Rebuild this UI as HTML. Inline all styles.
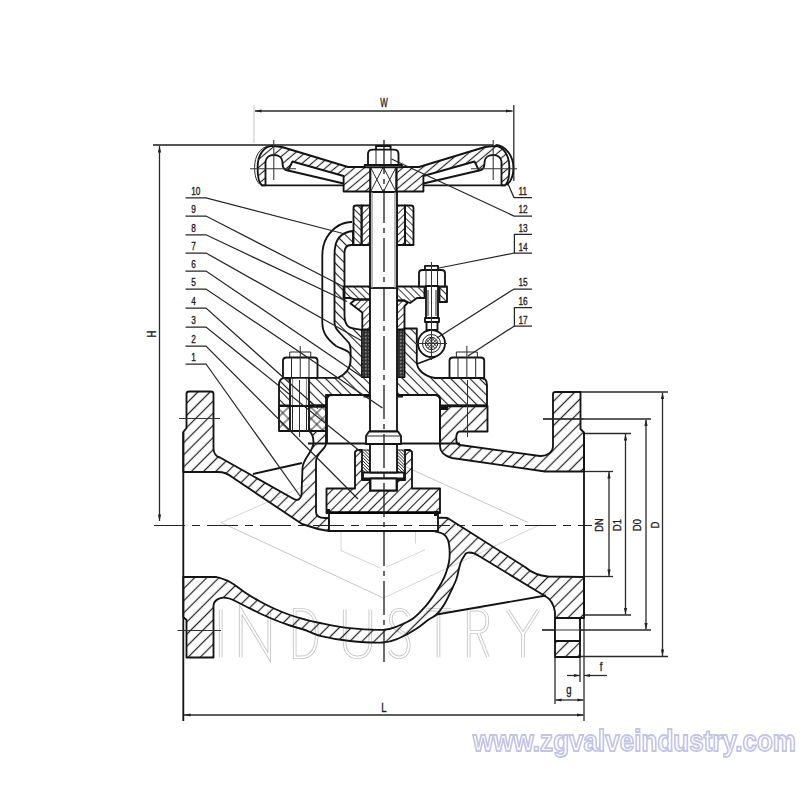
<!DOCTYPE html>
<html><head><meta charset="utf-8"><style>
html,body{margin:0;padding:0;background:#fff;}
body{width:800px;height:800px;overflow:hidden;position:relative;}
svg{position:absolute;left:0;top:0;}
.o{fill:none;stroke:#141414;stroke-width:1.85;stroke-linejoin:round;}
.w{fill:#fff;}
.t{fill:none;stroke:#262626;stroke-width:1.0;}
.td{fill:none;stroke:#2a2a2a;stroke-width:1.3;} .tg{fill:none;stroke:#888;stroke-width:1.2;} .tl{fill:none;stroke:#c4c4c4;stroke-width:1;}
.tk{fill:none;stroke:#1c1c1c;stroke-width:1.4;}
.thk{stroke:#000;stroke-width:2.4;}
.ar{fill:#222;stroke:none;}
.ld{fill:none;stroke:#262626;stroke-width:1.25;}
.hBody{fill:url(#hBody);} .hBon{fill:url(#hBon);} .hDisc{fill:url(#hDisc);} .hHw{fill:url(#hHw);}
.hSm{fill:url(#hSm);} .hSmB{fill:url(#hSmB);} .hX{fill:url(#hX);} .hX2{fill:url(#hX2);} .hF{fill:url(#hF);}
.pk{fill:url(#pk);stroke:#111;stroke-width:1;}
.pk2{fill:url(#pk);stroke:#111;stroke-width:0.8;}
.blk{fill:#111;}
.cl{fill:none;stroke:#222;stroke-width:1;stroke-dasharray:31 7 8 7;} .clv{fill:none;stroke:#1c1c1c;stroke-width:1.3;stroke-dasharray:34 5 5 5;}
.cl2{fill:none;stroke:#333;stroke-width:1.05;}
.wm{fill:none;stroke:#d6d6d6;stroke-width:1;}
.lb{font-family:"Liberation Sans",sans-serif;fill:#1e1e1e;stroke:#1e1e1e;stroke-width:0.35;}
.indA path{fill:none;stroke:#c6c6c6;stroke-width:3.6;} .indB path{fill:none;stroke:#fff;stroke-width:1.8;}
.wm2{fill:none;stroke:#b8b8b8;stroke-width:0.8;}
.url{font-family:"Liberation Sans",sans-serif;font-weight:bold;font-size:29px;fill:#fdfdff;stroke:#c4c4e6;stroke-width:1.8;filter:url(#blr);}
</style></head><body>
<svg width="800" height="800" viewBox="0 0 800 800">
<defs>
<filter id="blr" x="-5%" y="-20%" width="110%" height="140%"><feGaussianBlur stdDeviation="0.45"/></filter>
<pattern id="hBody" patternUnits="userSpaceOnUse" width="8.6" height="8.6" patternTransform="rotate(45)"><line x1="4.3" y1="-1" x2="4.3" y2="9.6" stroke="#222" stroke-width="1.25"/></pattern>
<pattern id="hBon" patternUnits="userSpaceOnUse" width="6.8" height="6.8" patternTransform="rotate(-45)"><line x1="3.4" y1="-1" x2="3.4" y2="7.8" stroke="#222" stroke-width="1.15"/></pattern>
<pattern id="hDisc" patternUnits="userSpaceOnUse" width="6.8" height="6.8" patternTransform="rotate(45)"><line x1="3.4" y1="-1" x2="3.4" y2="7.8" stroke="#222" stroke-width="1.15"/></pattern>
<pattern id="hHw" patternUnits="userSpaceOnUse" width="6.2" height="6.2" patternTransform="rotate(50)"><line x1="3.1" y1="-1" x2="3.1" y2="7.2" stroke="#222" stroke-width="1.15"/></pattern>
<pattern id="hSm" patternUnits="userSpaceOnUse" width="5.0" height="5.0" patternTransform="rotate(45)"><line x1="2.5" y1="-1" x2="2.5" y2="6.0" stroke="#222" stroke-width="0.9"/></pattern>
<pattern id="hSmB" patternUnits="userSpaceOnUse" width="5.0" height="5.0" patternTransform="rotate(-45)"><line x1="2.5" y1="-1" x2="2.5" y2="6.0" stroke="#222" stroke-width="0.9"/></pattern>
<pattern id="hF" patternUnits="userSpaceOnUse" width="2.2" height="2.2" patternTransform="rotate(-45)"><line x1="1.1" y1="-1" x2="1.1" y2="3.2" stroke="#222" stroke-width="0.7"/></pattern>
<pattern id="hX" patternUnits="userSpaceOnUse" width="8" height="8" patternTransform="rotate(45)"><line x1="4" y1="-1" x2="4" y2="9" stroke="#2b2b2b" stroke-width="1"/><line x1="-1" y1="4" x2="9" y2="4" stroke="#2b2b2b" stroke-width="1"/></pattern>
<pattern id="hX2" patternUnits="userSpaceOnUse" width="2.5" height="2.5" patternTransform="rotate(45)"><line x1="1.25" y1="0" x2="1.25" y2="2.5" stroke="#333" stroke-width="0.7"/><line x1="0" y1="1.25" x2="2.5" y2="1.25" stroke="#333" stroke-width="0.7"/></pattern>
<pattern id="pk" patternUnits="userSpaceOnUse" width="3.5" height="3.5"><rect width="3.5" height="3.5" fill="#2e2e2e"/><circle cx="1.75" cy="1.75" r="1.0" fill="#8a8a8a"/></pattern>
</defs>
<rect width="800" height="800" fill="#fff"/>
<path class="wm" d="M221,522.5 L309,484 M341,523.5 L341,550.6 L380.4,568 M415.5,530.5 L415.5,543.6 M386.5,567 L425,549.75 M383.5,598 L539.5,525"/>
<path class="wm2" d="M221,522.5 L383.5,598 M386.5,458 L528,522.5"/>
<g class="indA"><path d="M220.7,609.7 V657.3 M240.7,657.3 V609.7 L269.3,657.3 V609.7 M294.7,609.7 V657.3 H301 C312.5,657.3 316.8,647 316.8,633.5 C316.8,620 312.5,609.7 301,609.7 Z M344.7,609.7 V643 C344.7,652 350,657.3 357.5,657.3 C365,657.3 370.3,652 370.3,643 V609.7 M408.8,616 C406.5,611.5 403,609.7 399.5,609.7 C393.5,609.7 390.8,614 390.8,619.5 C390.8,626 395.5,629 400,631 C405,633.5 408.8,637 408.8,645 C408.8,653 404.5,657.3 399.5,657.3 C395,657.3 391.5,655 389.8,650.5 M426,609.7 H451 M438.5,609.7 V657.3 M468.7,657.3 V609.7 H478 C484,609.7 487.3,614 487.3,621 C487.3,628 484,632 478,632 H468.7 M478,632 L488,657.3 M507.5,609.7 L523,634 L538.5,609.7 M523,634 V657.3"/></g>
<g class="indB"><path d="M220.7,609.7 V657.3 M240.7,657.3 V609.7 L269.3,657.3 V609.7 M294.7,609.7 V657.3 H301 C312.5,657.3 316.8,647 316.8,633.5 C316.8,620 312.5,609.7 301,609.7 Z M344.7,609.7 V643 C344.7,652 350,657.3 357.5,657.3 C365,657.3 370.3,652 370.3,643 V609.7 M408.8,616 C406.5,611.5 403,609.7 399.5,609.7 C393.5,609.7 390.8,614 390.8,619.5 C390.8,626 395.5,629 400,631 C405,633.5 408.8,637 408.8,645 C408.8,653 404.5,657.3 399.5,657.3 C395,657.3 391.5,655 389.8,650.5 M426,609.7 H451 M438.5,609.7 V657.3 M468.7,657.3 V609.7 H478 C484,609.7 487.3,614 487.3,621 C487.3,628 484,632 478,632 H468.7 M478,632 L488,657.3 M507.5,609.7 L523,634 L538.5,609.7 M523,634 V657.3"/></g>
<line class="tl" x1="254" y1="105" x2="254" y2="143"/>
<line class="td" x1="513.8" y1="105" x2="513.8" y2="181"/>
<line class="td" x1="255" y1="111" x2="512.5" y2="111"/>
<path class="ar" d="M255.0,111.0 L261.5,109.4 L261.5,112.6 Z"/>
<path class="ar" d="M512.5,111.0 L506.0,112.6 L506.0,109.4 Z"/>
<text class="lb" transform="translate(384,107) scale(0.66,1)" text-anchor="middle" font-size="12">W</text>
<line class="tk" x1="153" y1="145" x2="493" y2="145"/>
<line class="td" x1="159.5" y1="146" x2="159.5" y2="521"/>
<path class="ar" d="M159.5,146.0 L161.1,152.5 L157.9,152.5 Z"/>
<path class="ar" d="M159.5,521.0 L157.9,514.5 L161.1,514.5 Z"/>
<text class="lb" transform="translate(156,334) rotate(-90) scale(0.8,1)" text-anchor="middle" font-size="12">H</text>
<line class="o" x1="183.3" y1="432" x2="183.3" y2="721"/>
<line class="td" x1="584" y1="618" x2="584" y2="721"/>
<line class="o" x1="584" y1="432.5" x2="584" y2="618"/>
<line class="td" x1="184" y1="715" x2="583.5" y2="715"/>
<path class="ar" d="M184.0,715.0 L190.5,713.4 L190.5,716.6 Z"/>
<path class="ar" d="M583.5,715.0 L577.0,716.6 L577.0,713.4 Z"/>
<text class="lb" transform="translate(384,711.5) scale(0.8,1)" text-anchor="middle" font-size="12">L</text>
<line class="td" x1="555" y1="657" x2="555" y2="704"/>
<line class="td" x1="555.5" y1="700" x2="583.5" y2="700"/>
<path class="ar" d="M555.5,700.0 L561.5,698.4 L561.5,701.6 Z"/>
<path class="ar" d="M583.5,700.0 L577.5,701.6 L577.5,698.4 Z"/>
<text class="lb" transform="translate(569,693.5) scale(0.8,1)" text-anchor="middle" font-size="12">g</text>
<line class="td" x1="580" y1="657" x2="580" y2="682"/>
<line class="td" x1="567" y1="675.5" x2="580" y2="675.5"/>
<path class="ar" d="M580.0,675.5 L574.0,677.1 L574.0,673.9 Z"/>
<line class="td" x1="584" y1="675.5" x2="607" y2="675.5"/>
<path class="ar" d="M584.0,675.5 L590.0,673.9 L590.0,677.1 Z"/>
<text class="lb" transform="translate(601,671) scale(0.8,1)" text-anchor="middle" font-size="12">f</text>
<line class="td" x1="584" y1="471.5" x2="613" y2="471.5"/>
<line class="td" x1="584" y1="576.5" x2="613" y2="576.5"/>
<line class="td" x1="609" y1="472" x2="609" y2="576"/>
<path class="ar" d="M609.0,472.0 L610.6,478.5 L607.4,478.5 Z"/>
<path class="ar" d="M609.0,576.0 L607.4,569.5 L610.6,569.5 Z"/>
<line class="td" x1="584" y1="433.5" x2="631" y2="433.5"/>
<line class="td" x1="584" y1="615" x2="631" y2="615"/>
<line class="td" x1="625.5" y1="434" x2="625.5" y2="614.5"/>
<path class="ar" d="M625.5,434.0 L627.1,440.5 L623.9,440.5 Z"/>
<path class="ar" d="M625.5,614.5 L623.9,608.0 L627.1,608.0 Z"/>
<line class="td" x1="543" y1="419" x2="651" y2="419"/>
<line class="td" x1="542" y1="630" x2="651" y2="630"/>
<line class="td" x1="646" y1="419.5" x2="646" y2="629.5"/>
<path class="ar" d="M646.0,419.5 L647.6,426.0 L644.4,426.0 Z"/>
<path class="ar" d="M646.0,629.5 L644.4,623.0 L647.6,623.0 Z"/>
<line class="td" x1="580.5" y1="392" x2="668" y2="392"/>
<line class="td" x1="580" y1="656.5" x2="668" y2="656.5"/>
<line class="td" x1="662.5" y1="392.5" x2="662.5" y2="656"/>
<path class="ar" d="M662.5,392.5 L664.1,399.0 L660.9,399.0 Z"/>
<path class="ar" d="M662.5,656.0 L660.9,649.5 L664.1,649.5 Z"/>
<text class="lb" transform="translate(602.5,525) rotate(-90) scale(0.8,1)" text-anchor="middle" font-size="11.5">DN</text>
<text class="lb" transform="translate(621,525) rotate(-90) scale(0.8,1)" text-anchor="middle" font-size="11.5">D1</text>
<text class="lb" transform="translate(641,525) rotate(-90) scale(0.8,1)" text-anchor="middle" font-size="11.5">D0</text>
<text class="lb" transform="translate(658.5,525) rotate(-90) scale(0.8,1)" text-anchor="middle" font-size="11.5">D</text>
<path class="hHw o" d="M271.5,145.8 C263,147 257.6,156 257.6,167.5 C257.6,177 259,183 261.75,185.3 L265.5,185.3 L265.5,161.5 C266,157.5 269.5,155 273.75,155 C278.5,155 282,157.5 282.3,161 L282.75,166 C283.5,169 285.5,170.3 288,170.5 L292.5,161.5 L343.6,176 L343.6,191.5 L370.4,191.5 L370.4,167 L348,167 L282,147 Z"/>
<path class="hHw o" d="M 495.5,145.8 C 504.0,147 509.4,156 509.4,167.5 C 509.4,177 508.0,183 505.2,185.3 L 501.5,185.3 L 501.5,161.5 C 501.0,157.5 497.5,155 493.2,155 C 488.5,155 485.0,157.5 484.7,161 L 484.2,166 C 483.5,169 481.5,170.3 479.0,170.5 L 474.5,161.5 L 423.4,176 L 423.4,191.5 L 396.6,191.5 L 396.6,167 L 419.0,167 L 485.0,147 Z"/>
<path class="o" d="M288,170.5 L343.6,183.5"/>
<path class="o" d="M 479.0,170.5 L 423.4,183.5"/>
<path class="o" d="M261.75,185.3 L343.6,185.3"/>
<path class="o" d="M 505.2,185.3 L 423.4,185.3"/>
<path class="t" d="M268.5,146 C260,147.5 254.6,156 254.6,167.5 C254.6,176 256.5,181.5 260,184.5"/>
<path class="o" d="M495.5,145 C505,145.5 513.4,155 513.4,168 C513.4,176.5 510.5,182 506.5,185"/>
<rect class="o w" x="370.4" y="167" width="25.8" height="25"/>
<path class="t" d="M370.4,167 L383.3,192 L396.2,167 M370.4,192 L383.3,167 L396.2,192"/>
<path class="o w" d="M368,165.5 L368,154 C368,151 370,149.6 373,149.6 L393.5,149.6 C396.5,149.6 398.5,151 398.5,154 L398.5,165.5 Z"/>
<path class="o" d="M376,149.6 L376,146 L390.6,146 L390.6,149.6"/>
<line class="t" x1="376" y1="149.6" x2="376" y2="165.5"/>
<line class="t" x1="391" y1="149.6" x2="391" y2="165.5"/>
<rect class="o w" x="364.7" y="165" width="37.2" height="2.2"/>
<line class="cl2" x1="273.8" y1="140" x2="273.8" y2="180"/>
<line class="cl2" x1="493.2" y1="140" x2="493.2" y2="180"/>
<line class="cl2" x1="250" y1="168.7" x2="296" y2="168.7"/>
<line class="cl2" x1="471" y1="168.7" x2="517" y2="168.7"/>
<path class="hSmB o" d="M353.5,208 Q353.5,205.5 356,205.5 L361.6,205.5 L361.6,245 L353.5,245 Z"/>
<rect class="hSm o" x="361.6" y="205.5" width="8.4" height="39.5"/>
<rect class="hSm o" x="397" y="205.5" width="8" height="39.5"/>
<path class="hSmB o" d="M405,205.5 L411,205.5 Q413.5,205.5 413.5,208 L413.5,245 L405,245 Z"/>
<path class="o" d="M352,222 C342,222 333,228 327,237 C323.5,243 322.3,249 322.3,256 L322.3,322 C322.3,332 326,338 336,346 C344,350 350.6,351 350.6,356"/>
<path class="hBon o" d="M353,231 C344,232 337.5,237 335.5,245 C334.5,249 334.5,252 334.5,256 L334.5,322 C334.5,326 336,329 339,332 L349,343 C350.2,345 350.6,347 350.6,350 L350.6,360 C350.6,368 346,374 338,377.8 L285,377.8 C281,377.8 279,380 279,385 L279,405.5 L326,405.5 L326,395 L370,395 L370,377 L362,377 L362,330 C358,329 352,329 349,327 C346,325 344.5,321 344.5,315 L344.5,253 C344.5,248 347,245 351,245 L353,245 Z"/>
<path class="hBon o" d="M404.5,328.5 L416.8,328.5 L416.8,362 C417,370 424,376 435,378 L481,378 C485,378 487,380 487,385 L487,405.5 L440,405.5 L440,400 C440,397 438,395 435,395 L397,395 L397,377 L404.5,377 Z"/>
<path class="o" d="M327,443.5 L327,400 C327,397 329,395 332,395 L435,395 C438,395 440,397 440,400 L440,443.5"/>
<line class="o" x1="308" y1="443.5" x2="460" y2="443.5"/>
<rect class="pk" x="362" y="330" width="8" height="47"/>
<rect class="pk" x="397" y="330" width="7.5" height="47"/>
<rect class="blk" x="363.5" y="394" width="6.5" height="3.5"/>
<rect class="blk" x="397" y="394" width="6" height="3.5"/>
<path class="hSmB o" d="M343.5,286.5 L370,286.5 L370,299.5 L355.5,299.5 L350,298 L343.5,298 Z"/>
<path class="hSm o" d="M355.5,299.5 L370,299.5 L370,329.5 L362.3,329.5 L362.3,312.5 L350.5,303.5 Z"/>
<path class="hSmB o" d="M397,286.5 L424.5,286.5 L424.5,298 L417,298 L410,303 L404.5,300.5 L397,300.5 Z"/>
<path class="hSm o" d="M397,300.5 L404.5,300.5 L407.5,303 L404.5,306 L404.5,329.5 L397,329.5 Z"/>
<path class="hSmB o" d="M439.5,286.5 L447,286.5 L447,302 L439.5,302 Z"/>
<line class="o" x1="416.8" y1="364" x2="435.4" y2="357"/>
<rect class="o w" x="370" y="192" width="27" height="239.5"/>
<line class="o" x1="370" y1="288" x2="397" y2="288"/>
<line class="tg" x1="372" y1="192" x2="372" y2="288"/>
<line class="tg" x1="395" y1="192" x2="395" y2="288"/>
<path class="o w" d="M366,444 L366,436 L369,431.5 L398,431.5 L401,436 L401,444 Z"/>
<line class="t" x1="366" y1="436" x2="401" y2="436"/>
<rect class="w" x="290" y="378" width="19" height="27.5"/>
<line class="o" x1="290" y1="378" x2="290" y2="405.5"/>
<line class="o" x1="309" y1="378" x2="309" y2="405.5"/>
<line class="tg" x1="292.5" y1="378" x2="292.5" y2="405.5"/>
<line class="tg" x1="306.5" y1="378" x2="306.5" y2="405.5"/>
<path class="o w" d="M283,377.8 L283,360.5 C283,358.5 284.5,357.5 286.5,357.5 L314.0,357.5 C316.0,357.5 317.5,358.5 317.5,360.5 L317.5,377.8 Z"/>
<path class="t" d="M289.75,357.5 L289.75,352 L310.75,352 L310.75,357.5"/>
<line class="t" x1="291.5" y1="357.5" x2="291.5" y2="377.8"/>
<line class="t" x1="309.0" y1="357.5" x2="309.0" y2="377.8"/>
<line class="cl2" x1="300.25" y1="346" x2="300.25" y2="378"/>
<path class="o w" d="M449.5,377.8 L449.5,360.5 C449.5,358.5 451.0,357.5 453.0,357.5 L480.7,357.5 C482.7,357.5 484.2,358.5 484.2,360.5 L484.2,377.8 Z"/>
<path class="t" d="M456.35,357.5 L456.35,352 L477.35,352 L477.35,357.5"/>
<line class="t" x1="458.0" y1="357.5" x2="458.0" y2="377.8"/>
<line class="t" x1="475.7" y1="357.5" x2="475.7" y2="377.8"/>
<line class="cl2" x1="466.85" y1="346" x2="466.85" y2="378"/>
<path class="hX o" d="M279,406 L326,406 L326,431 L279,431 Z"/>
<rect class="o w" x="290" y="406" width="19" height="25"/>
<line class="t" x1="292.5" y1="406" x2="292.5" y2="431"/>
<line class="t" x1="306.5" y1="406" x2="306.5" y2="431"/>
<line class="cl2" x1="299.5" y1="380" x2="299.5" y2="437"/>
<rect class="blk" x="310" y="404.5" width="16" height="3.2"/>
<rect class="blk" x="441" y="406.5" width="7" height="3.5"/>
<line class="thk" x1="448" y1="406" x2="487.5" y2="406"/>
<path class="hBody o" d="M440,406 L487.5,406 L487.5,431.5 L460,431.5 C455,431.5 455,445 460,445 L540,456 C547,456.5 553,452 553,446 L553,394 C553,392.5 554,392 555.5,392 L580.5,392 L580.5,429 L584,432.5 L584,471.5 L545,471.5 L452,458 C445,456 440,452 440,446 Z"/>
<line class="cl2" x1="467.5" y1="380" x2="467.5" y2="437"/>
<path class="hBody o" d="M189,391.5 L211,391.5 C212.5,391.5 213.5,392.5 213.5,394 L213.5,449 Q214,456 220,457.5 L292,498 Q299,503 301.5,495 L302.5,468 C303,458 313.5,452 313.5,442 C313.5,436 311,432 309,431 L326,431 L326,443.5 C326,450 316,452 316,462 L316,512 Q316,518 325,518 L329,518 L329,531 L318,529 L302,524 L232,477 Q226,472 218,472 L183.3,472 L183.3,432 L186.5,428 L186.5,394 C186.5,392.5 187.5,391.5 189,391.5 Z"/>
<line class="o" x1="253" y1="474" x2="302" y2="463"/>
<path class="hBody o" d="M435,518 L440.6,517.6 L447.5,518 L461,526.5 L525,567 Q535,575.5 548,576.5 L584,577 L584,618 L580,618 L580,657 L555,657 L555,612 Q553,600 545,596 L479,556 Q473,552 468,552.6 Q466,553 465.4,554 C464.7,555.2 462.3,558.7 461.3,561.0 C460.3,563.3 460.0,564.8 459.2,567.8 C458.4,570.8 457.8,575.1 456.5,578.8 C455.2,582.5 453.6,585.7 451.6,589.8 C449.7,593.9 447.3,599.4 444.8,603.5 C442.3,607.6 439.3,611.8 436.5,614.5 C433.7,617.2 431.4,617.6 428.0,620.0 C424.6,622.4 420.8,626.0 416.0,629.0 C411.2,632.0 405.0,635.8 399.5,638.0 C394.0,640.2 391.2,642.0 383.0,642.5 C374.8,643.0 360.5,642.1 350.0,641.0 C339.5,639.9 327.5,637.6 320.0,635.8 C312.5,633.9 310.0,631.7 305.0,630.0 C300.0,628.3 295.0,627.2 290.0,625.5 C285.0,623.8 280.0,622.0 275.0,620.0 C270.0,618.0 265.0,615.8 260.0,613.5 C255.0,611.2 249.7,608.3 245.0,606.0 C240.3,603.7 235.2,600.9 232.0,599.5 C228.8,598.1 226.6,598.0 225.5,597.8 C220,597 213.5,600 213.5,606 L213.5,657.5 L186.5,657.5 L186.5,620 L183.3,617 L183.3,577 L216.5,577 C218.8,577.8 225.2,579.4 230.0,582.0 C234.8,584.6 240.0,589.2 245.0,592.5 C250.0,595.8 255.0,598.8 260.0,601.5 C265.0,604.2 270.0,606.8 275.0,609.0 C280.0,611.2 285.0,613.2 290.0,615.0 C295.0,616.8 300.0,618.2 305.0,619.5 C310.0,620.8 312.5,621.5 320.0,623.0 C327.5,624.5 339.5,627.1 350.0,628.2 C360.5,629.4 375.0,630.1 383.0,629.8 C391.0,629.4 393.0,627.9 398.0,626.0 C403.0,624.1 408.4,621.8 413.0,618.5 C417.6,615.2 422.0,610.2 425.5,606.3 C429.0,602.4 431.2,599.0 433.8,595.3 C436.3,591.6 438.7,587.8 440.6,584.3 C442.5,580.8 444.0,578.3 445.4,574.6 C446.8,570.9 448.3,566.1 449.0,562.0 C449.7,557.9 449.8,553.7 449.6,550.0 C449.4,546.3 449.0,542.7 448.0,540.0 C447.0,537.3 445.6,535.5 443.4,534.0 C441.2,532.5 436.4,531.8 435.0,531.3 Z"/>
<rect class="o w" x="555" y="618" width="25" height="23"/>
<line class="o" x1="436.5" y1="614.5" x2="546" y2="595.5"/>
<line class="cl2" x1="179" y1="418.5" x2="220" y2="418.5"/>
<line class="cl2" x1="177.5" y1="630.5" x2="221" y2="630.5"/>
<line class="cl2" x1="543" y1="419" x2="584" y2="419"/>
<line class="cl2" x1="542" y1="630" x2="584" y2="630"/>
<rect class="o w" x="329" y="513" width="109" height="18"/>
<path class="hDisc o" d="M326.5,513 L326.5,488.5 L355,488.5 L355,452 L357,450 L362,450 L362,480 L370,480 L370,490.5 L397,490.5 L397,480 L405,480 L405,450 L410,450 L412,452 L412,488.5 L440,488.5 L440,513 Z"/>
<rect class="hF t" x="362.5" y="450" width="7.5" height="22.5"/>
<rect class="hF t" x="397" y="450" width="7.5" height="22.5"/>
<rect class="o w" x="363" y="472.5" width="41" height="6"/>
<rect class="o w" x="370.5" y="478.5" width="26" height="12"/>
<rect class="o w" x="370" y="444" width="27" height="28.5"/>
<line class="thk" x1="326" y1="512.5" x2="440" y2="512.5"/>
<rect class="blk" x="326" y="509" width="4" height="5"/>
<rect class="blk" x="434" y="511" width="4" height="5"/>
<path class="o" d="M425,270 L425,265.8 L438,265.8 L438,270"/>
<path class="o w" d="M419,286.5 L419,273 C419,271 420.5,270 422.5,270 L441.5,270 C443.5,270 445,271 445,273 L445,286.5 Z"/>
<line class="t" x1="426" y1="270" x2="426" y2="286"/>
<line class="t" x1="437.5" y1="270" x2="437.5" y2="286"/>
<rect class="o w" x="426" y="286" width="12" height="32"/>
<line class="t" x1="428" y1="290" x2="428" y2="316"/>
<line class="t" x1="436" y1="290" x2="436" y2="316"/>
<rect class="o w" x="425" y="318" width="14" height="4"/>
<rect class="o w" x="426.5" y="322" width="11" height="8"/>
<circle class="o w" cx="431.5" cy="343.5" r="13.5"/>
<circle class="t" cx="431.5" cy="343.5" r="9"/>
<circle class="t" cx="431.5" cy="343.5" r="6.2"/>
<circle class="hX2" cx="431.5" cy="343.5" r="6"/>
<line class="cl2" x1="431.5" y1="262" x2="431.5" y2="360"/>
<line class="cl2" x1="416" y1="343.5" x2="447" y2="343.5"/>
<line class="clv" x1="384" y1="140" x2="384" y2="662"/>
<line class="cl" x1="154" y1="525.5" x2="592" y2="525.5"/>
<path class="ld" d="M185.5,197.8 L206,197.8 L345,234"/>
<text class="lb" transform="translate(191.2,195.0) scale(0.72,1)" text-anchor="start" font-size="11.5">10</text>
<path class="ld" d="M185.5,216 L206,216 L344,287"/>
<text class="lb" transform="translate(191.2,213.2) scale(0.72,1)" text-anchor="start" font-size="11.5">9</text>
<path class="ld" d="M185.5,234.8 L206,234.8 L347,301.5"/>
<text class="lb" transform="translate(191.2,232.0) scale(0.72,1)" text-anchor="start" font-size="11.5">8</text>
<path class="ld" d="M185.5,253 L206,253 L362,341"/>
<text class="lb" transform="translate(191.2,250.2) scale(0.72,1)" text-anchor="start" font-size="11.5">7</text>
<path class="ld" d="M185.5,271 L206,271 L362,377"/>
<text class="lb" transform="translate(191.2,268.2) scale(0.72,1)" text-anchor="start" font-size="11.5">6</text>
<path class="ld" d="M185.5,289 L206,289 L382.5,408"/>
<text class="lb" transform="translate(191.2,286.2) scale(0.72,1)" text-anchor="start" font-size="11.5">5</text>
<path class="ld" d="M185.5,308 L206,308 L318,408.5"/>
<text class="lb" transform="translate(191.2,305.2) scale(0.72,1)" text-anchor="start" font-size="11.5">4</text>
<path class="ld" d="M185.5,327 L206,327 L361,452"/>
<text class="lb" transform="translate(191.2,324.2) scale(0.72,1)" text-anchor="start" font-size="11.5">3</text>
<path class="ld" d="M185.5,346 L206,346 L358,499"/>
<text class="lb" transform="translate(191.2,343.2) scale(0.72,1)" text-anchor="start" font-size="11.5">2</text>
<path class="ld" d="M185.5,364 L206,364 L300,496"/>
<text class="lb" transform="translate(191.2,361.2) scale(0.72,1)" text-anchor="start" font-size="11.5">1</text>
<path class="ld" d="M508,184 L514,197.6 L532,197.6"/>
<text class="lb" transform="translate(518.5,194.8) scale(0.72,1)" text-anchor="start" font-size="11.5">11</text>
<path class="ld" d="M391.5,159 L514,216 L532,216"/>
<text class="lb" transform="translate(518.5,213.2) scale(0.72,1)" text-anchor="start" font-size="11.5">12</text>
<path class="ld" d="M532,234.4 L514.4,234.4 L514.4,253 L532,253"/>
<text class="lb" transform="translate(518.5,231.5) scale(0.72,1)" text-anchor="start" font-size="11.5">13</text>
<path class="ld" d="M514.4,253 L439,268"/>
<text class="lb" transform="translate(518.5,250.5) scale(0.72,1)" text-anchor="start" font-size="11.5">14</text>
<path class="ld" d="M437,338 L514,289 L532,289"/>
<text class="lb" transform="translate(518.5,286.2) scale(0.72,1)" text-anchor="start" font-size="11.5">15</text>
<path class="ld" d="M532,307.6 L514.4,307.6 L514.4,326 L532,326"/>
<text class="lb" transform="translate(518.5,304.8) scale(0.72,1)" text-anchor="start" font-size="11.5">16</text>
<path class="ld" d="M514.4,326 L468,356"/>
<text class="lb" transform="translate(518.5,323.5) scale(0.72,1)" text-anchor="start" font-size="11.5">17</text>
<text class="url" x="473" y="751" textLength="323" lengthAdjust="spacingAndGlyphs">www.zgvalveindustry.com</text>
</svg>
</body></html>
